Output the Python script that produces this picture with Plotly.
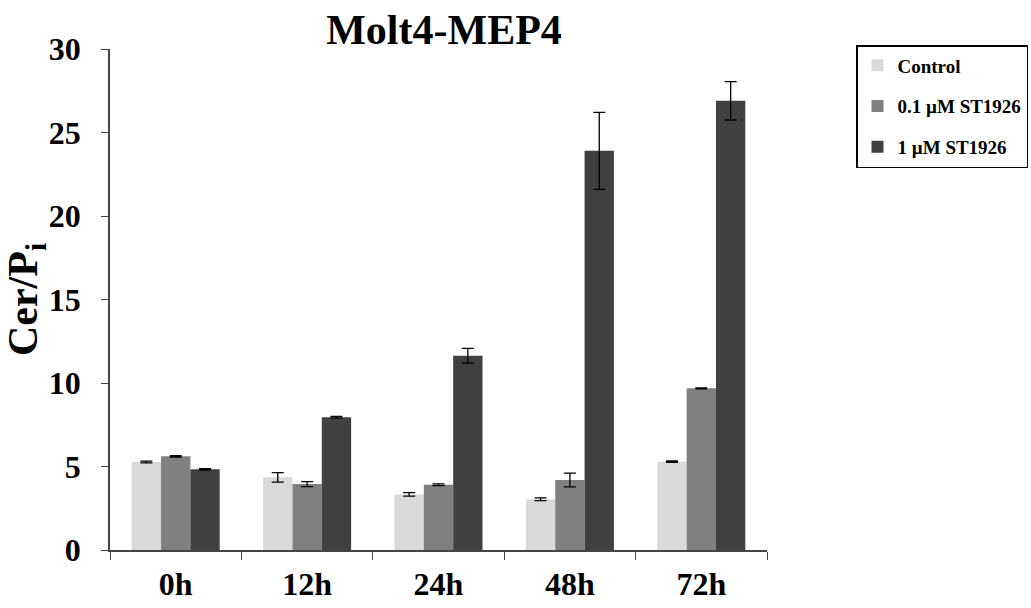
import plotly.graph_objects as go

categories = ["0h", "12h", "24h", "48h", "72h"]
series_names = ["Control", "0.1 µM ST1926", "1 µM ST1926"]
control = [5.27, 4.35, 3.33, 3.04, 5.29]
control_err = [0.05, 0.28, 0.10, 0.08, 0.04]
low_dose = [5.61, 3.95, 3.91, 4.19, 9.68]
low_err = [0.04, 0.15, 0.05, 0.41, 0.03]
high_dose = [4.83, 7.95, 11.63, 23.9, 26.9]
high_err = [0.04, 0.05, 0.44, 2.3, 1.15]
colors = ["#d9d9d9", "#808080", "#404040"]

font_family = "Liberation Serif, Times New Roman, serif"

fig = go.Figure()
for i, (name, vals, errs) in enumerate(zip(series_names, [control, low_dose, high_dose],
                                              [control_err, low_err, high_err])):
    fig.add_trace(go.Bar(
        x=categories, y=vals, name=f"<b>{name}</b>", legendgroup=f"g{i}",
        marker=dict(color=colors[i], line=dict(width=0)),
        error_y=dict(type="data", array=errs, visible=True, color="black",
                     thickness=1.3, width=6),
    ))

fig.update_layout(
    width=1031, height=608,
    margin=dict(l=110, r=264, t=49, b=58, autoexpand=False),
    paper_bgcolor="white", plot_bgcolor="white",
    barmode="group", bargap=0.33, bargroupgap=0,
    font=dict(family=font_family, color="black"),
    title=dict(text="<b>Molt4-MEP4</b>", x=444 / 1031, xanchor="center",
               y=1 - 29 / 608, yanchor="middle", font=dict(size=42, family=font_family)),
    xaxis=dict(showline=True, linecolor="#444", linewidth=1.5, ticks="outside",
               tickson="boundaries", ticklen=8, tickcolor="#444",
               tickfont=dict(size=32, family=font_family), ticklabelstandoff=5,
               tickprefix="<b>", ticksuffix="</b>", showgrid=False),
    yaxis=dict(range=[0, 30], dtick=5, showline=True, linecolor="#444", linewidth=1.5,
               ticks="outside", ticklen=7, tickcolor="#444", showgrid=False, zeroline=False,
               tickfont=dict(size=32, family=font_family), ticklabelstandoff=14,
               tickprefix="<b>", ticksuffix="</b>",
               title=dict(text="<b>Cer/P<sub>i</sub></b>", font=dict(size=42, family=font_family),
                          standoff=2)),
    legend=dict(x=(856 - 110) / 657, xanchor="left", y=(550 - 45) / 501, yanchor="top",
                bordercolor="black", borderwidth=1.5, bgcolor="white",
                font=dict(size=19, family=font_family), tracegroupgap=13,
                itemwidth=30),
)

fig.write_html("out.html")
